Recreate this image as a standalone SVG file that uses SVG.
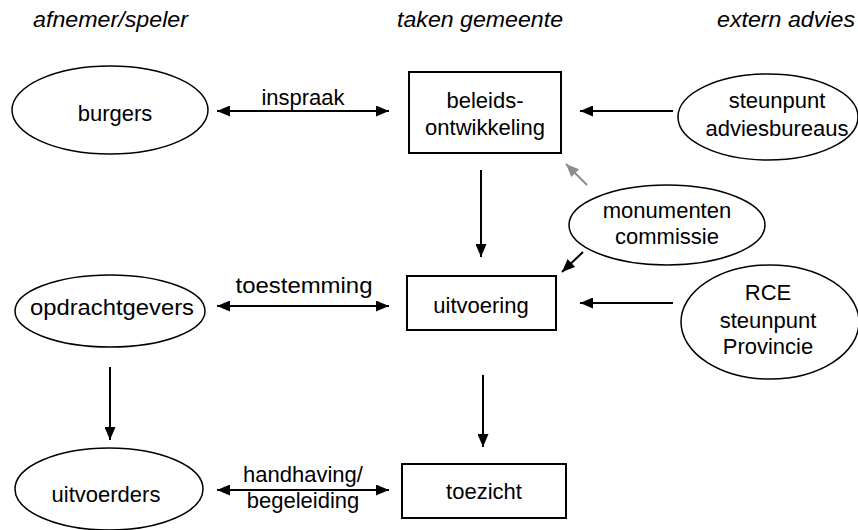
<svg xmlns="http://www.w3.org/2000/svg" width="858" height="530" viewBox="0 0 858 530">
<style>
text{font-family:"Liberation Sans",Arial,sans-serif;font-size:22px;fill:#000;text-anchor:middle}
.h{font-style:italic;text-anchor:start}
.n{fill:#fff;stroke:#000;stroke-width:1.5}
.b{fill:#fff;stroke:#000;stroke-width:2}
.c{stroke:#000;stroke-width:2;fill:none}
.g{stroke:#8c8c8c;stroke-width:2;fill:none}
</style>
<defs>
<marker id="a" viewBox="0 0 13 11" refX="13" refY="5.5" markerWidth="13" markerHeight="11" markerUnits="userSpaceOnUse" orient="auto-start-reverse"><path d="M0,0L13,5.5L0,11z" fill="#000"/></marker>
<marker id="ag" viewBox="0 0 13 11" refX="13" refY="5.5" markerWidth="13" markerHeight="11" markerUnits="userSpaceOnUse" orient="auto"><path d="M0,0L13,5.5L0,11z" fill="#8c8c8c"/></marker>
</defs>
<g id="headers">
<text class="h" x="33" y="27" textLength="155" lengthAdjust="spacingAndGlyphs">afnemer/speler</text>
<text class="h" x="397" y="27" textLength="166" lengthAdjust="spacingAndGlyphs">taken gemeente</text>
<text class="h" x="717" y="27" textLength="138" lengthAdjust="spacingAndGlyphs">extern advies</text>
</g>
<g id="connectors">
<line class="c" x1="217" y1="111" x2="389" y2="111" marker-start="url(#a)" marker-end="url(#a)"/>
<line class="c" x1="217" y1="306" x2="389" y2="306" marker-start="url(#a)" marker-end="url(#a)"/>
<line class="c" x1="217" y1="490" x2="389" y2="490" marker-start="url(#a)" marker-end="url(#a)"/>
<line class="c" x1="673" y1="111" x2="580" y2="111" marker-end="url(#a)"/>
<line class="c" x1="673" y1="303" x2="580" y2="303" marker-end="url(#a)"/>
<line class="c" x1="481" y1="170" x2="481" y2="257" marker-end="url(#a)"/>
<line class="c" x1="483" y1="375" x2="483" y2="447" marker-end="url(#a)"/>
<line class="c" x1="110" y1="367" x2="110" y2="440" marker-end="url(#a)"/>
<line class="g" x1="587" y1="185" x2="566" y2="164" marker-end="url(#ag)"/>
<line class="c" x1="583" y1="252" x2="562" y2="272" marker-end="url(#a)"/>
<text x="303" y="105">inspraak</text>
<text x="304" y="293" textLength="137" lengthAdjust="spacingAndGlyphs">toestemming</text>
<text x="303" y="482">handhaving/</text>
<text x="303" y="508">begeleiding</text>
</g>
<g id="burgers"><ellipse class="n" cx="110" cy="110" rx="98" ry="44"/><text x="115" y="121">burgers</text></g>
<g id="beleidsontwikkeling"><rect class="b" x="409" y="72" width="152" height="81"/><text x="485" y="108">beleids-</text><text x="485" y="135">ontwikkeling</text></g>
<g id="steunpunt-adviesbureaus"><ellipse class="n" cx="768" cy="117" rx="90" ry="43"/><text x="777" y="108">steunpunt</text><text x="777" y="136">adviesbureaus</text></g>
<g id="monumentencommissie"><ellipse class="n" cx="667" cy="225" rx="98" ry="40"/><text x="667" y="218">monumenten</text><text x="667" y="244">commissie</text></g>
<g id="opdrachtgevers"><ellipse class="n" cx="110" cy="311" rx="95" ry="36"/><text x="112" y="315" textLength="164" lengthAdjust="spacingAndGlyphs">opdrachtgevers</text></g>
<g id="uitvoering"><rect class="b" x="407" y="276" width="149" height="54"/><text x="481" y="313">uitvoering</text></g>
<g id="rce"><ellipse class="n" cx="770" cy="322" rx="89" ry="57"/><text x="768" y="300">RCE</text><text x="768" y="328">steunpunt</text><text x="768" y="354">Provincie</text></g>
<g id="uitvoerders"><ellipse class="n" cx="109" cy="489" rx="94" ry="41"/><text x="106" y="502">uitvoerders</text></g>
<g id="toezicht"><rect class="b" x="402" y="464" width="164" height="54"/><text x="484" y="499">toezicht</text></g>
</svg>
